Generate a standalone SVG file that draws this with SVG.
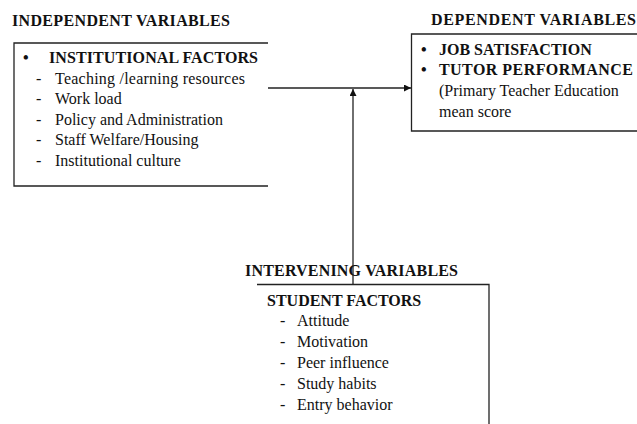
<svg xmlns="http://www.w3.org/2000/svg" width="637" height="424" viewBox="0 0 637 424">
<style>
text{font-family:"Liberation Serif","Times New Roman",serif;font-size:16px;fill:#111}
.b{font-weight:bold}
.box{fill:none;stroke:#222;stroke-width:1.3}
.con{fill:none;stroke:#222;stroke-width:1.3}
</style>
<defs>
<marker id="ah" viewBox="0 0 10 10" refX="10" refY="5" markerWidth="7" markerHeight="7" markerUnits="userSpaceOnUse" orient="auto">
<path d="M0,0 L10,5 L0,10 Z" fill="#111"/>
</marker>
</defs>
<rect width="637" height="424" fill="#fff"/>
<g id="independent">
<text class="b" x="12" y="26" textLength="218" lengthAdjust="spacing">INDEPENDENT VARIABLES</text>
<path class="box" d="M268,43 H14 V186 H268"/>
<text class="b" x="23" y="63">•</text>
<text class="b" x="49" y="63" textLength="209" lengthAdjust="spacing">INSTITUTIONAL FACTORS</text>
<text x="36" y="83.5">-</text><text x="55" y="83.5" textLength="190" lengthAdjust="spacing">Teaching /learning resources</text>
<text x="36" y="104">-</text><text x="55" y="104">Work load</text>
<text x="36" y="124.5">-</text><text x="55" y="124.5">Policy and Administration</text>
<text x="36" y="145">-</text><text x="55" y="145">Staff Welfare/Housing</text>
<text x="36" y="165.5">-</text><text x="55" y="165.5">Institutional culture</text>
</g>
<g id="dependent">
<text class="b" x="431" y="25" textLength="205" lengthAdjust="spacing">DEPENDENT VARIABLES</text>
<path class="box" d="M637,34 H411.5 V131 H637"/>
<text class="b" x="421" y="55">•</text>
<text class="b" x="439" y="55">JOB SATISFACTION</text>
<text class="b" x="421" y="75">•</text>
<text class="b" x="439" y="75" textLength="194" lengthAdjust="spacing">TUTOR PERFORMANCE</text>
<text x="439" y="96">(Primary Teacher Education</text>
<text x="439" y="117">mean score</text>
</g>
<g id="intervening">
<text class="b" x="245" y="276" textLength="213" lengthAdjust="spacing">INTERVENING VARIABLES</text>
<path class="box" d="M257,284.5 H489 V424"/>
<text class="b" x="267" y="306">STUDENT FACTORS</text>
<text x="280" y="326">-</text><text x="297" y="326">Attitude</text>
<text x="280" y="347">-</text><text x="297" y="347">Motivation</text>
<text x="280" y="368">-</text><text x="297" y="368">Peer influence</text>
<text x="280" y="389">-</text><text x="297" y="389">Study habits</text>
<text x="280" y="410">-</text><text x="297" y="410">Entry behavior</text>
</g>
<g id="connectors">
<path class="con" d="M268,88 H411" marker-end="url(#ah)"/>
<path class="con" d="M353,284 V89" marker-end="url(#ah)"/>
</g>
</svg>
